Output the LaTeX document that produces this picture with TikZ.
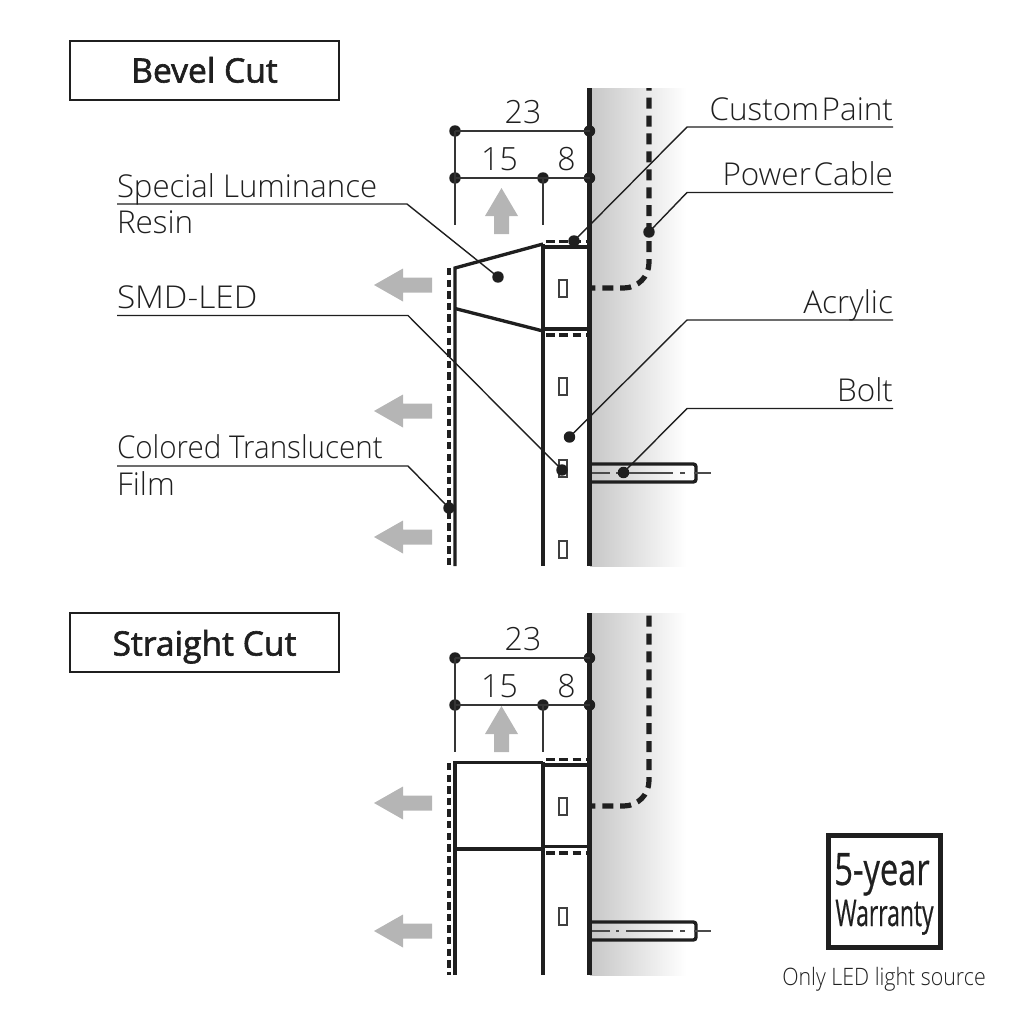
\documentclass[tikz,border=0pt]{standalone}
\usepackage{fontspec}
\setmainfont{Open Sans}[UprightFont=* Light,BoldFont=*]
\newfontfamily\regfont{Open Sans}[FakeBold=0.6]
\newfontfamily\headfont{Open Sans}[FakeBold=1.8]
\definecolor{ink}{gray}{0.12}
\definecolor{arrowgray}{gray}{0.71}
\tikzset{
 x=0.75pt,y=-0.75pt,
 every node/.style={inner sep=0pt,outer sep=0pt,text=ink},
 dot/.style={circle,fill=ink,minimum size=8.6pt,draw=none},
 lbl/.style={font=\fontsize{23.6}{28}\selectfont},
 dimtxt/.style={font=\fontsize{24}{28}\selectfont,anchor=base},
 headbox/.style={draw=ink,line width=1.5pt,fill=white},
 headtxt/.style={font=\headfont\fontsize{25.2}{30}\selectfont,anchor=base},
 leader/.style={draw=ink,line width=1.05pt},
 dimline/.style={draw=ink!90,line width=1.1pt},
 wall/.style={draw=ink,line width=3.4pt},
 thick solid/.style={draw=ink,line width=2.5pt},
 mid solid/.style={draw=ink,line width=2.5pt},
 film/.style={draw=ink,line width=2.6pt,dash pattern=on 5.5pt off 3.2pt},
 paint/.style={draw=ink,line width=2.4pt,dash pattern=on 6.5pt off 3.5pt},
 cable/.style={draw=ink,line width=3.9pt,dash pattern=on 8.25pt off 5.2pt,dash phase=5pt,rounded corners=19pt},
 ledbox/.style={draw=ink!85,line width=1.5pt,fill=white},
 glow/.style={fill=arrowgray,draw=none},
 boltbody/.style={draw=ink,line width=2.5pt,rounded corners=2pt},
 axisline/.style={draw=ink!80,line width=1.2pt},
}
\newcommand{\leftarrowshape}[1]{\fill[glow] (374,#1) -- (403,#1-16.5) -- (403,#1-7.5) -- (432,#1-7.5) -- (432,#1+7.5) -- (403,#1+7.5) -- (403,#1+16.5) -- cycle;}
\newcommand{\uparrowshape}[2]{\fill[glow] (501.5,#1) -- (518,#1+28) -- (509,#1+28) -- (509,#2) -- (494,#2) -- (494,#1+28) -- (485,#1+28) -- cycle;}
\newcommand{\ledshape}[1]{\draw[ledbox] (559,#1-8.5) rectangle (566.5,#1+8.5);}
\newcommand{\boltshape}[1]{%
 \draw[boltbody] (591,#1-9) -- (696,#1-9) -- (696,#1+9) -- (591,#1+9);
 \draw[axisline,dash pattern=on 14.25pt off 4.5pt on 2.25pt off 5.25pt on 35.25pt off 5.25pt on 3.75pt off 6.75pt on 12.75pt off 20pt] (591,#1) -- (713,#1);}
\begin{document}
\begin{tikzpicture}
\useasboundingbox (0,0) rectangle (1010,1028);
% ---------- Bevel cut
\shade[left color=black!22,right color=white] (590,88) rectangle (686,566);
\node[headbox,minimum width=202pt,minimum height=44.2pt] (bevelbox) at (204.5,70.5) {};
\node[headtxt] (beveltxt) at (204.5,82.5) {Bevel Cut};
\draw[cable] (591,288) -- (649,288) -- (649,88);
\foreach \yy in {288,386,468,549}{\ledshape{\yy}}
\draw[paint] (546,241.5) -- (588,241.5);
\draw[paint] (546,335) -- (588,335);
\draw[film] (449,268) -- (449,566);
\draw[thick solid] (455,566) -- (455,268) -- (543,244);
\draw[thick solid] (455,308.5) -- (543,331);
\draw[mid solid] (543,244) -- (543,566);
\draw[thick solid] (543,247) -- (589,247);
\draw[thick solid] (543,329) -- (589,329);
\boltshape{473}
\draw[wall] (589.5,88) -- (589.5,566);
\leftarrowshape{285}\leftarrowshape{411}\leftarrowshape{537}
\uparrowshape{188}{234}
% dimensions
\node[dot] (a1) at (455,131) {}; \node[dot] (a2) at (589.5,131) {};
\node[dot] (b1) at (455,178) {}; \node[dot] (b2) at (543,178) {}; \node[dot] (b3) at (589.5,178) {};
\coordinate (t1) at (455,225); \coordinate (t2) at (543,225);
\draw[dimline] (a1.center) -- (a2.center);
\draw[dimline] (b1.center) -- (b2.center) -- (b3.center);
\draw[dimline] (a1.center) -- (t1);
\draw[dimline] (b2.center) -- (t2);
\node[dimtxt] (d23) at (523,123) {23};
\node[dimtxt] (d15) at (499.5,170) {15};
\node[dimtxt] (d8) at (566.5,170) {8};
% leaders
\node[dot] (pCustom) at (574,241) {};
\node[dot] (pPower) at (649,232) {};
\node[dot] (pResin) at (498,277) {};
\node[dot] (pSmd) at (562,470) {};
\node[dot] (pFilm) at (449,508) {};
\node[dot] (pAcr) at (569.5,437) {};
\node[dot] (pBolt) at (623.5,472.5) {};
\coordinate (eCustom) at (893,127);\coordinate (ePower) at (893,192.5);
\coordinate (eAcr) at (893,320);\coordinate (eBolt) at (893,408.5);
\coordinate (eResin) at (117,204);\coordinate (eSmd) at (117,315.5);\coordinate (eFilm) at (117,466);
\draw[leader] (eCustom) -- (687,127) -- (pCustom.center);
\draw[leader] (ePower) -- (687,192.5) -- (pPower.center);
\draw[leader] (eAcr) -- (687,320) -- (pAcr.center);
\draw[leader] (eBolt) -- (687,408.5) -- (pBolt.center);
\draw[leader] (eResin) -- (407,204) -- (pResin.center);
\draw[leader] (eSmd) -- (408,315.5) -- (pSmd.center);
\draw[leader] (eFilm) -- (408,466) -- (pFilm.center);
\node[lbl,anchor=base east] (tCustom) at (893,120) {Custom\hspace{2pt}Paint};
\node[lbl,anchor=base east] (tPower) at (893,185) {Power\hspace{2pt}Cable};
\node[lbl,anchor=base east] (tAcr) at (893,313) {Acrylic};
\node[lbl,anchor=base east] (tBolt) at (893,401) {Bolt};
\node[lbl,anchor=base west] (tSpecial) at (117,197) {\scalebox{0.99}[1]{Special Luminance}};
\node[lbl,anchor=base west] (tResin) at (117,233.5) {Resin};
\node[lbl,anchor=base west] (tSmd) at (117,308.5) {\scalebox{1.06}[1]{SMD-LED}};
\node[lbl,anchor=base west] (tColored) at (117,458.5) {\scalebox{0.94}[1]{Colored Translucent}};
\node[lbl,anchor=base west] (tFilmb) at (117,495.5) {Film};
% ---------- Straight cut
\shade[left color=black!22,right color=white] (590,613) rectangle (686,975);
\node[headbox,minimum width=202pt,minimum height=44.2pt] (straightbox) at (204.5,642.5) {};
\node[headtxt] (straighttxt) at (204.5,655.5) {Straight Cut};
\draw[cable] (591,806) -- (649,806) -- (649,613);
\foreach \yy in {806,916}{\ledshape{\yy}}
\draw[paint] (546,759.7) -- (588,759.7);
\draw[paint] (546,853) -- (588,853);
\draw[film] (449,763) -- (449,975);
\draw[thick solid] (455,975) -- (455,762.5) -- (543,762.5);
\draw[mid solid] (455,849) -- (543,849);
\draw[mid solid] (543,762) -- (543,975);
\draw[thick solid] (543,765) -- (589,765);
\draw[thick solid] (543,846.7) -- (589,846.7);
\boltshape{931}
\draw[wall] (589.5,613) -- (589.5,975);
\leftarrowshape{803}\leftarrowshape{931}
\uparrowshape{706}{752}
\node[dot] (c1) at (455,658) {}; \node[dot] (c2) at (589.5,658) {};
\node[dot] (e1) at (455,705) {}; \node[dot] (e2) at (543,705) {}; \node[dot] (e3) at (589.5,705) {};
\coordinate (u1) at (455,752); \coordinate (u2) at (543,752);
\draw[dimline] (c1.center) -- (c2.center);
\draw[dimline] (e1.center) -- (e2.center) -- (e3.center);
\draw[dimline] (c1.center) -- (u1);
\draw[dimline] (e2.center) -- (u2);
\node[dimtxt] (f23) at (523,650) {23};
\node[dimtxt] (f15) at (499.5,697) {15};
\node[dimtxt] (f8) at (566.5,697) {8};
% ---------- Warranty
\node[draw=ink,line width=3.2pt,minimum size=84pt] (warr) at (884.5,891.5) {};
\node[anchor=base,font=\regfont\fontsize{33.5}{36}\selectfont] (w5) at (882,885) {\scalebox{0.73}[1]{5-year}};
\node[anchor=base,font=\regfont\fontsize{27.5}{30}\selectfont] (w2) at (884.5,926) {\scalebox{0.625}[1]{Warranty}};
\node[anchor=base,font=\fontsize{18}{22}\selectfont] (wonly) at (884,985) {\scalebox{0.89}[1]{Only LED light source}};
\end{tikzpicture}
\end{document}
